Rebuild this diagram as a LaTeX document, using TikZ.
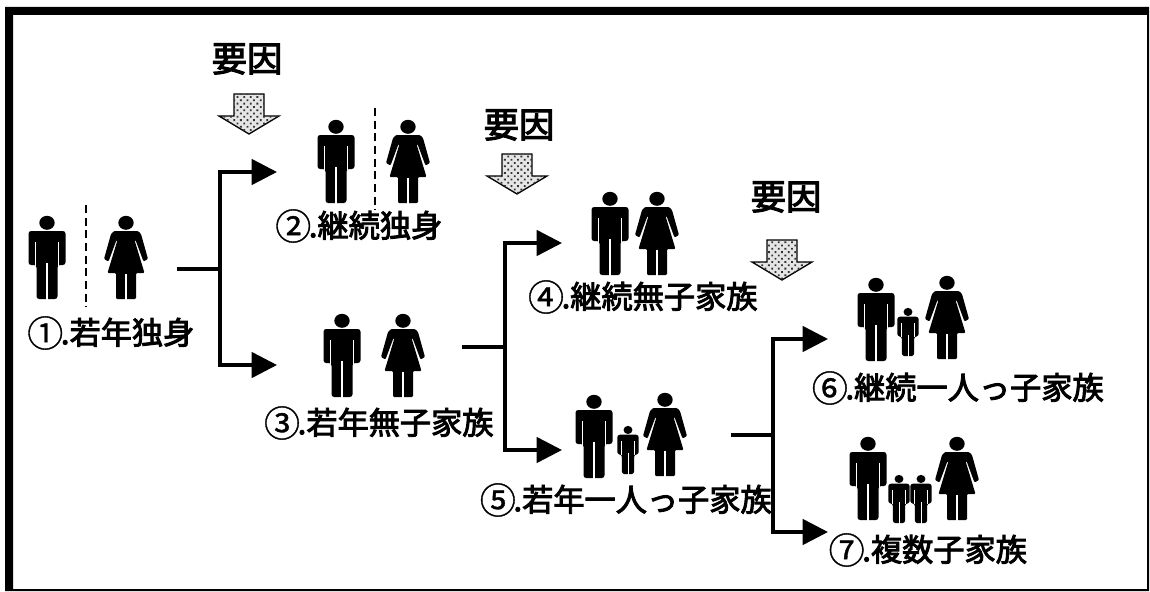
\documentclass[tikz,border=0pt]{standalone}
\usepackage{fontspec}
\usepackage{tikz}
\usetikzlibrary{arrows.meta,patterns.meta}
\setmainfont{Noto Sans CJK JP}[FakeBold=3]
\newfontfamily\ringfont{Noto Sans CJK JP}[FakeBold=1]
\newcommand{\ringnum}[1]{\makebox[1em]{\raisebox{-.08em}{\ringfont\fontsize{27}{27}\selectfont #1}}}

\tikzset{
  slit/.style={white,line width=.9pt},
  man/.pic={
    \fill (0,6.8) ellipse [x radius=7.7,y radius=7];
    \fill[rounded corners=2pt] (-18.5,15) -- (18.5,15) -- (18.5,49) -- (10.5,49) -- (10.5,83)
      -- (-10.5,83) -- (-10.5,49) -- (-18.5,49) -- cycle;
    \draw[slit] (-11.8,26) -- (-11.8,50) (11.8,26) -- (11.8,50) (0,47) -- (0,84);
  },
  woman/.pic={
    \fill (0,6.8) ellipse [x radius=7.7,y radius=7];
    \fill[rounded corners=.8pt] (-12,15) -- (12,15) -- (15,18) -- (22,43) -- (17.5,45.5) -- (9.5,24) -- (8.5,24) -- (18.5,57)
      -- (10,57) -- (10,83) -- (-10,83) -- (-10,57) -- (-18.5,57) -- (-8.5,24) -- (-9.5,24) -- (-17.5,45.5) -- (-22,43) -- (-15,18) -- cycle;
    \draw[slit] (0,57.5) -- (0,84);
  },
  divider/.pic={
    \draw[dashed,line width=.8pt,dash pattern=on 6pt off 3.5pt] (0,0) -- (0,102);
  },
  causearrow/.pic={
    \draw[line width=1pt,fill=black!10,postaction={pattern={Dots[radius=.95pt,distance=3.5pt,angle=45]},pattern color=black!80}]
      (-15,0) -- (15,0) -- (15,22) -- (30,22) -- (0,40) -- (-30,22) -- (-15,22) -- cycle;
  }
}

\begin{document}
\begin{tikzpicture}[x=0.75pt,y=-0.75pt,
                    kid/.style={scale=.58,slit/.style={white,line width=.7pt}},
                    stage node/.style={inner sep=0pt,font=\fontsize{23.4}{26}\selectfont},
                    cause node/.style={inner sep=0pt,font=\fontsize{26.5}{30}\selectfont},
                    flow/.style={line width=2.6pt},
                    flow arrow/.style={flow,-{Triangle[length=19pt,width=19pt]}}]

  \useasboundingbox (0,0) rectangle (1150,592);
  \fill[even odd rule] (5,7) rectangle (1149,591) (13,15) rectangle (1147,589);

  \pic at (47,216) {man};
  \pic at (86,205) {divider};
  \pic at (126,216) {woman};

  \pic at (336,120) {man};
  \pic at (375,108) {divider};
  \pic at (408,120) {woman};

  \pic at (342,314) {man};
  \pic at (403,314) {woman};

  \pic at (610,192) {man};
  \pic at (657,192) {woman};

  \pic at (594,395) {man};
  \pic[kid] at (628,426) {man};
  \pic at (665,393) {woman};

  \pic at (876,278) {man};
  \pic[kid] at (908,308) {man};
  \pic at (947,276) {woman};

  \pic at (868,437) {man};
  \pic[kid] at (899,475) {man};
  \pic[kid] at (921,475) {man};
  \pic at (957,437) {woman};

  \node[stage node] (1) at (112,333) {\ringnum{①}.若年独身};
  \node[stage node] (2) at (360,226) {\ringnum{②}.継続独身};
  \node[stage node] (3) at (380,423) {\ringnum{③}.若年無子家族};
  \node[stage node] (4) at (644,297) {\ringnum{④}.継続無子家族};
  \node[stage node] (5) at (627,500) {\ringnum{⑤}.若年一人っ子家族};
  \node[stage node] (6) at (959,388) {\ringnum{⑥}.継続一人っ子家族};
  \node[stage node] (7) at (929,550) {\ringnum{⑦}.複数子家族};

  \node[cause node] (cause1) at (247,59) {要因};
  \node[cause node] (cause2) at (519,125) {要因};
  \node[cause node] (cause3) at (786,197) {要因};

  \pic at (249,94) {causearrow};
  \pic at (517,154) {causearrow};
  \pic at (782,240) {causearrow};

  \coordinate (from1) at (177,269);
  \coordinate (split1) at (220,269);
  \coordinate (to2) at (277,172);
  \coordinate (to3) at (277,365);
  \coordinate (from3) at (462,347);
  \coordinate (split3) at (505,347);
  \coordinate (to4) at (562,243);
  \coordinate (to5) at (562,450);
  \coordinate (from5) at (731,435);
  \coordinate (split5) at (773,435);
  \coordinate (to6) at (828,339);
  \coordinate (to7) at (828,532);

  \draw[flow] (from1) -- (split1);
  \draw[flow arrow] (split1) |- (to2);
  \draw[flow arrow] (split1) |- (to3);
  \draw[flow] (from3) -- (split3);
  \draw[flow arrow] (split3) |- (to4);
  \draw[flow arrow] (split3) |- (to5);
  \draw[flow] (from5) -- (split5);
  \draw[flow arrow] (split5) |- (to6);
  \draw[flow arrow] (split5) |- (to7);

\end{tikzpicture}
\end{document}
